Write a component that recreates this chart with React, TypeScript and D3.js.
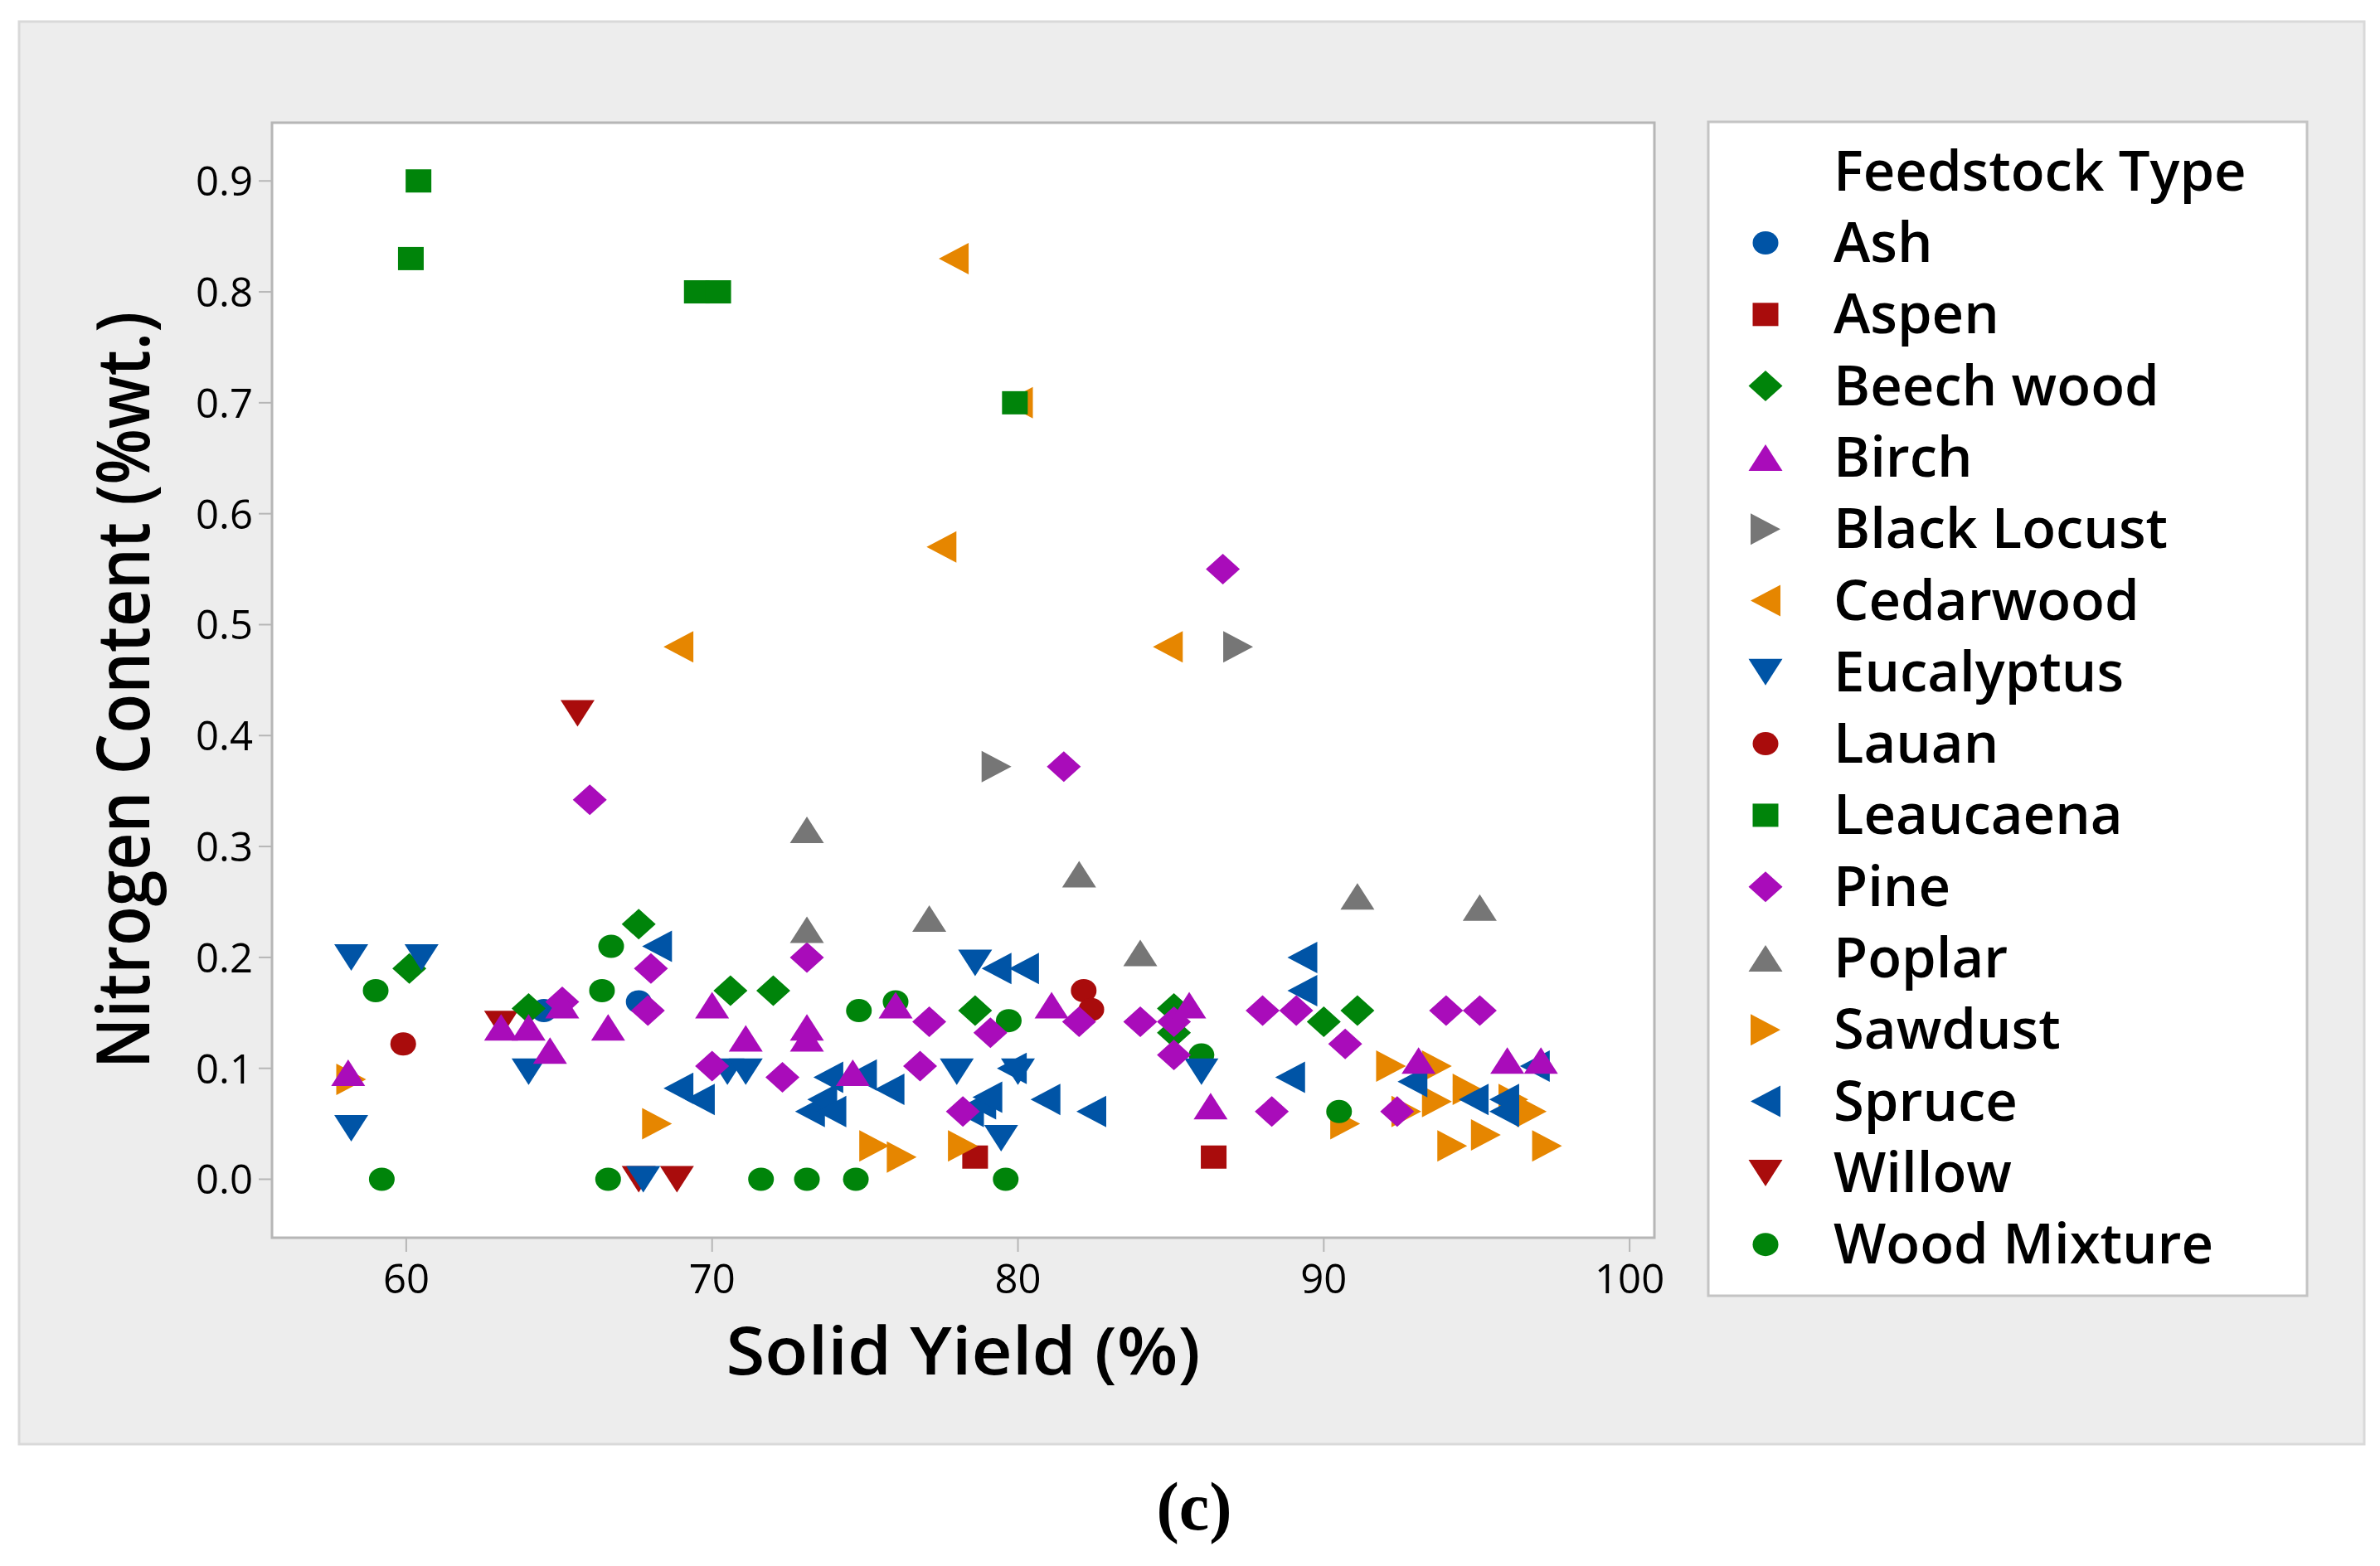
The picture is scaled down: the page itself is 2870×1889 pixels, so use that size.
import React, { useEffect } from 'react';
import * as d3 from 'd3';

type Pt = [number, number];

// Solid yield (%) vs nitrogen content (%wt.)
const ash: Pt[] = [[64.5, 0.152], [67.6, 0.16]];
const aspen: Pt[] = [[78.6, 0.02], [86.4, 0.02]];
const beechWood: Pt[] = [
    [60.1, 0.19], [64.0, 0.154], [67.6, 0.23], [70.6, 0.17], [72.0, 0.17],
    [78.6, 0.152], [85.1, 0.154], [85.1, 0.132], [90.0, 0.142], [91.1, 0.152],
];
const birch: Pt[] = [
    [58.1, 0.096], [63.1, 0.137], [64.0, 0.137], [64.7, 0.116], [65.1, 0.157],
    [66.6, 0.137], [70.0, 0.157], [71.1, 0.127], [73.1, 0.137], [73.1, 0.127],
    [74.6, 0.096], [76.0, 0.157], [81.1, 0.157], [85.6, 0.157], [86.3, 0.066],
    [93.1, 0.107], [96.0, 0.107], [97.1, 0.107],
];
const blackLocust: Pt[] = [[79.3, 0.372], [87.2, 0.48]];
const cedarwood: Pt[] = [[68.9, 0.48], [77.5, 0.57], [77.9, 0.83], [80.0, 0.70], [84.9, 0.48]];
const eucalyptus: Pt[] = [
    [58.2, 0.2], [58.2, 0.046], [60.5, 0.2], [64.0, 0.097], [67.75, 0.0],
    [70.5, 0.097], [71.1, 0.097], [78.0, 0.097], [78.6, 0.195], [79.45, 0.037],
    [80.0, 0.097], [86.0, 0.097],
];
const lauan: Pt[] = [[59.9, 0.122], [82.15, 0.17], [82.4, 0.153]];
const leaucaena: Pt[] = [[60.15, 0.83], [60.4, 0.9], [69.5, 0.8], [70.2, 0.8], [79.9, 0.7]];
const pine: Pt[] = [
    [65.1, 0.16], [66.0, 0.342], [67.9, 0.152], [68.0, 0.19], [70.0, 0.102],
    [72.3, 0.092], [73.1, 0.2], [76.8, 0.102], [77.1, 0.142], [78.2, 0.061],
    [79.1, 0.132], [81.5, 0.372], [82.0, 0.142], [84.0, 0.142], [85.1, 0.142],
    [85.1, 0.112], [86.7, 0.55], [88.0, 0.152], [88.3, 0.061], [89.1, 0.152],
    [90.7, 0.122], [92.4, 0.061], [94.0, 0.152], [95.1, 0.152],
];
const poplar: Pt[] = [
    [73.1, 0.315], [73.1, 0.225], [77.1, 0.235], [82.0, 0.275], [84.0, 0.204],
    [91.1, 0.255], [95.1, 0.245],
];
const sawdust: Pt[] = [
    [58.2, 0.09], [68.2, 0.05], [75.3, 0.03], [76.2, 0.02], [78.2, 0.03],
    [90.7, 0.05], [92.2, 0.102], [92.7, 0.061], [93.7, 0.102], [93.7, 0.07],
    [94.2, 0.03], [94.7, 0.081], [95.3, 0.04], [96.2, 0.072], [96.8, 0.061],
    [97.3, 0.03],
];
const spruce: Pt[] = [
    [68.2, 0.21], [68.9, 0.082], [69.6, 0.072], [73.2, 0.061], [73.6, 0.072],
    [73.8, 0.092], [73.9, 0.061], [74.9, 0.094], [75.8, 0.081], [78.4, 0.061],
    [78.8, 0.068], [79.0, 0.074], [79.3, 0.19], [79.8, 0.1], [80.2, 0.19],
    [80.9, 0.072], [82.4, 0.061], [88.9, 0.092], [89.3, 0.2], [89.3, 0.17],
    [92.9, 0.088], [94.9, 0.072], [95.9, 0.072], [95.9, 0.061], [96.9, 0.102],
];
const willow: Pt[] = [[63.1, 0.14], [65.6, 0.42], [67.6, 0.0], [68.85, 0.0]];
const woodMixture: Pt[] = [
    [59.0, 0.17], [59.2, 0.0], [66.4, 0.17], [66.6, 0.0], [66.7, 0.21],
    [71.6, 0.0], [73.1, 0.0], [74.7, 0.0], [74.8, 0.152], [76.0, 0.16],
    [79.6, 0.0], [79.7, 0.143], [86.0, 0.112], [90.5, 0.061],
];

const xTicks = [60, 70, 80, 90, 100];
const yTicks = [0, 0.1, 0.2, 0.3, 0.4, 0.5, 0.6, 0.7, 0.8, 0.9];

const BLUE = '#0054a6';
const RED = '#a90c0c';
const GREEN = '#00840a';
const MAGENTA = '#a90cba';
const GRAY = '#767676';
const ORANGE = '#e68600';

type Shape = 'circle' | 'square' | 'diamond' | 'up' | 'down' | 'left' | 'right';

// legend order
const series: { name: string; data: Pt[]; color: string; shape: Shape }[] = [
    { name: 'Ash', data: ash, color: BLUE, shape: 'circle' },
    { name: 'Aspen', data: aspen, color: RED, shape: 'square' },
    { name: 'Beech wood', data: beechWood, color: GREEN, shape: 'diamond' },
    { name: 'Birch', data: birch, color: MAGENTA, shape: 'up' },
    { name: 'Black Locust', data: blackLocust, color: GRAY, shape: 'right' },
    { name: 'Cedarwood', data: cedarwood, color: ORANGE, shape: 'left' },
    { name: 'Eucalyptus', data: eucalyptus, color: BLUE, shape: 'down' },
    { name: 'Lauan', data: lauan, color: RED, shape: 'circle' },
    { name: 'Leaucaena', data: leaucaena, color: GREEN, shape: 'square' },
    { name: 'Pine', data: pine, color: MAGENTA, shape: 'diamond' },
    { name: 'Poplar', data: poplar, color: GRAY, shape: 'up' },
    { name: 'Sawdust', data: sawdust, color: ORANGE, shape: 'right' },
    { name: 'Spruce', data: spruce, color: BLUE, shape: 'left' },
    { name: 'Willow', data: willow, color: RED, shape: 'down' },
    { name: 'Wood Mixture', data: woodMixture, color: GREEN, shape: 'circle' },
];

// order the groups are painted in (bottom first)
const drawOrder = [
    'Aspen', 'Sawdust', 'Willow', 'Ash', 'Cedarwood', 'Beech wood', 'Wood Mixture',
    'Leaucaena', 'Lauan', 'Spruce', 'Eucalyptus', 'Pine', 'Birch', 'Poplar', 'Black Locust',
];

const W = 2870;
const H = 1889;
const plot = { left: 328, top: 148, right: 1995, bottom: 1493 };

const FONT = '"Open Sans", "Noto Sans", sans-serif';

function Marker({ shape, color, x, y }: { shape: Shape; color: string; x: number; y: number }) {
    const t = `translate(${x},${y})`;
    switch (shape) {
        case 'circle':
            return <ellipse cx={x} cy={y} rx={15.5} ry={14} fill={color} />;
        case 'square':
            return <rect x={x - 15.5} y={y - 14} width={31} height={28} fill={color} />;
        case 'diamond':
            return <path transform={t} d="M0,-18.5L20.5,0L0,18.5L-20.5,0Z" fill={color} />;
        case 'up':
            return <path transform={t} d="M0,-16L20.5,16L-20.5,16Z" fill={color} />;
        case 'down':
            return <path transform={t} d="M-20.5,-16L20.5,-16L0,16Z" fill={color} />;
        case 'right':
            return <path transform={t} d="M-18,-19L18,0L-18,19Z" fill={color} />;
        case 'left':
            return <path transform={t} d="M18,-19L-18,0L18,19Z" fill={color} />;
    }
}

export default function App() {
    useEffect(() => {
        document.body.style.margin = '0';
    }, []);

    const x = d3.scaleLinear().domain([55.61, 100.81]).range([plot.left, plot.right]);
    const y = d3.scaleLinear().domain([-0.0527, 0.9525]).range([plot.bottom, plot.top]);

    const ordered = drawOrder.map(n => series.find(s => s.name === n)!);

    const legendX = 2060;
    const legendTop = 147;
    const rowStep = 86.3;
    const firstRow = 293;

    return (
        <svg width={W} height={H} viewBox={`0 0 ${W} ${H}`} style={{ display: 'block', background: '#fff' }}>
            {/* outer panel */}
            <rect x={23} y={26} width={2828} height={1716} fill="#ededed" stroke="#d9d9d9" strokeWidth={3} />

            {/* plot area */}
            <rect x={plot.left} y={plot.top} width={plot.right - plot.left} height={plot.bottom - plot.top}
                fill="#fff" stroke="#b6b6b6" strokeWidth={3} />

            {/* y axis */}
            {yTicks.map(t => (
                <g key={`y${t}`}>
                    <line x1={plot.left - 16} x2={plot.left} y1={y(t)} y2={y(t)} stroke="#b6b6b6" strokeWidth={2} />
                    <text x={plot.left - 23} y={y(t) + 18} textAnchor="end" fontFamily={FONT} fontSize={49} fill="#000">
                        {d3.format('.1f')(t)}
                    </text>
                </g>
            ))}

            {/* x axis */}
            {xTicks.map(t => (
                <g key={`x${t}`}>
                    <line x1={x(t)} x2={x(t)} y1={plot.bottom} y2={plot.bottom + 17} stroke="#b6b6b6" strokeWidth={2} />
                    <text x={x(t)} y={1560} textAnchor="middle" fontFamily={FONT} fontSize={49} fill="#000">
                        {t}
                    </text>
                </g>
            ))}

            <text transform={`translate(${(plot.left + plot.right) / 2},1658) scale(1.08,1)`} textAnchor="middle"
                fontFamily={FONT} fontWeight={600} fontSize={79} fill="#000">
                Solid Yield (%)
            </text>
            <text transform={`translate(180,${(plot.top + plot.bottom) / 2 + 12}) rotate(-90) scale(0.98,1.1)`}
                textAnchor="middle" fontFamily={FONT} fontWeight={600} fontSize={80} fill="#000">
                Nitrogen Content (%wt.)
            </text>

            {/* points */}
            <g>
                {ordered.map(s => (
                    <g key={s.name}>
                        {s.data.map((d, i) => (
                            <Marker key={i} shape={s.shape} color={s.color} x={x(d[0])} y={y(d[1])} />
                        ))}
                    </g>
                ))}
            </g>

            {/* legend */}
            <rect x={legendX} y={legendTop} width={722} height={1416} fill="#fff" stroke="#c4c4c4" strokeWidth={3} />
            <text x={2211} y={230} fontFamily={FONT} fontWeight={600} fontSize={67} fill="#000">Feedstock Type</text>
            {series.map((s, i) => {
                const cy = firstRow + i * rowStep;
                return (
                    <g key={s.name}>
                        <Marker shape={s.shape} color={s.color} x={2129} y={cy} />
                        <text x={2211} y={cy + 23} fontFamily={FONT} fontWeight={600} fontSize={67} fill="#000">{s.name}</text>
                    </g>
                );
            })}

            <text x={1440} y={1845} textAnchor="middle" fontFamily='"Liberation Serif", serif' fontWeight="bold"
                fontSize={82} fill="#000">
                (c)
            </text>
        </svg>
    );
}
